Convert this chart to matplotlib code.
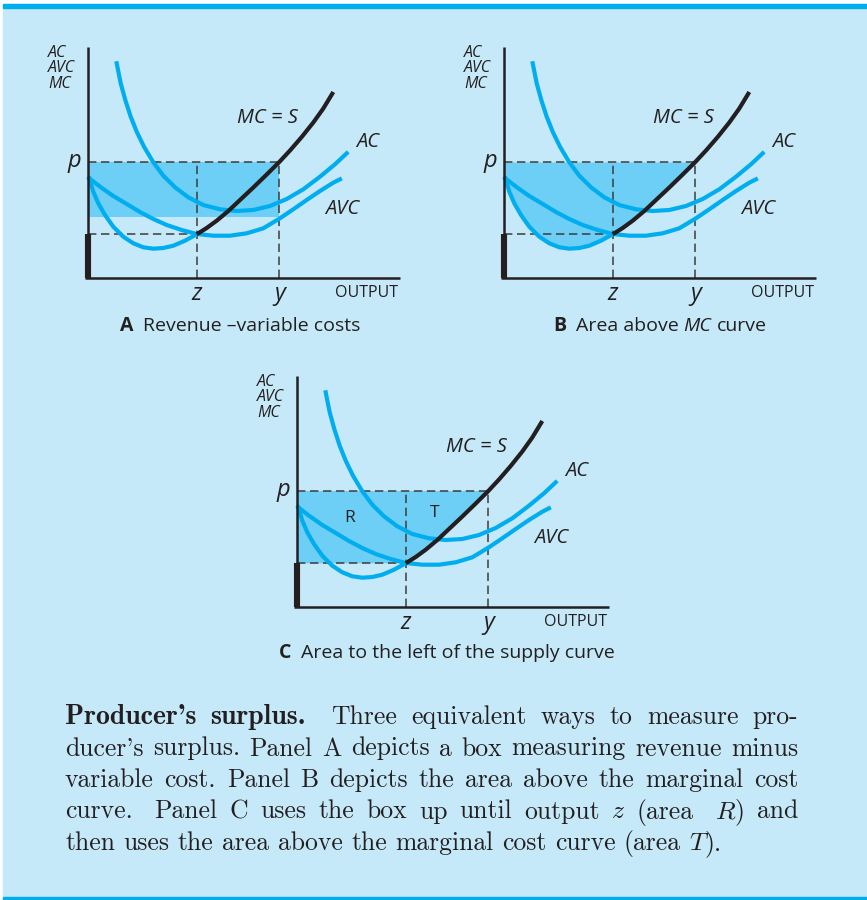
import matplotlib
matplotlib.use("Agg")  # no screen, write straight to file
import matplotlib.pyplot as plt
import numpy as np

W, H = 867, 900

BG = "#c6e9f9"
BAND = "#00aeef"
CURVE = "#00aeef"
FILL = "#6dcff6"
INK = "#231f20"
DASH = "#3c3c3c"
SANS = "Open Sans"

# cost curves shared by the three panels: (output, cost)
AC_Q = [2.87, 3.27, 3.73, 4.27, 4.87, 5.6, 6.53, 7.53, 8.7, 10.03, 11.53, 13.2,
        14.87, 16.53, 18.2, 19.87, 21.53, 23.2, 24.7, 25.87]
AC_C = [21.47, 19.47, 17.8, 16.13, 14.63, 13.13, 11.57, 10.23, 9.07, 8.07, 7.3, 6.87,
        6.7, 6.8, 7.2, 7.9, 8.87, 10.13, 11.37, 12.47]

MC_Q = [0.13, 0.53, 1.03, 1.7, 2.53, 3.53, 4.53, 5.53, 6.53, 7.53, 8.53, 9.7, 10.87,
        11.87, 12.87, 14.03, 15.2, 16.53, 17.87, 19.13, 20.2, 21.37, 22.53, 23.53, 24.53]
MC_C = [9.97, 8.63, 7.47, 6.3, 5.13, 4.13, 3.47, 3.07, 2.93, 3.0, 3.23, 3.73, 4.37,
        5.0, 5.73, 6.7, 7.8, 9.05, 10.35, 11.6, 12.75, 14.1, 15.55, 16.95, 18.6]

AVC_Q = [0.13, 1.2, 2.53, 3.87, 5.2, 6.53, 7.87, 9.37, 10.87, 12.53, 14.2, 15.87,
         17.53, 19.13, 20.53, 21.87, 23.2, 24.53, 25.2]
AVC_C = [9.97, 9.13, 8.2, 7.4, 6.6, 5.9, 5.3, 4.8, 4.4, 4.23, 4.23, 4.47,
         4.97, 5.93, 6.87, 7.8, 8.7, 9.53, 9.87]

P = 11.6         # price
Z = 10.87        # output where MC meets min AVC
Y = 19.13        # output where p = MC
MIN_AVC = 4.37
AVC_AT_Y = 6.1
Q_END = 31.2
C_TOP = 23.1

PANELS = ["A", "B", "C"]
ORIGINS = [(88, 278), (504, 278), (297, 607)]   # pixel position of each origin
CAPTIONS = [
    [("A", "b"), ("Revenue –variable costs", "r")],
    [("B", "b"), ("Area above", "r"), ("MC", "i"), ("curve", "r")],
    [("C", "b"), ("Area to the left of the supply curve", "r")],
]
CAPTION_X = [240, 660, 447]
CAPTION_BASE = [331, 331, 658]

TEXT_LINES = [
    [[("Producer's", "bf")], [("surplus.", "bf")], "+", "Three", "equivalent", "ways",
     "to", "measure", "pro-"],
    ["ducer's", "surplus.", "Panel", "A", "depicts", "a", "box", "measuring", "revenue", "minus"],
    ["variable", "cost.", "Panel", "B", "depicts", "the", "area", "above", "the",
     "marginal", "cost"],
    ["curve.", "+", "Panel", "C", "uses", "the", "box", "up", "until", "output",
     [("z", "it")], "(area", "+", [("R", "it"), (")", "rm")], "and"],
    ["then", "uses", "the", "area", "above", "the", "marginal", "cost", "curve",
     "(area", [("T", "it"), (").", "rm")]],
]
TEXT_BASE = [724, 755.5, 787, 818.5, 850]
TEXT_X0, TEXT_X1 = 65, 798

PANEL_STYLE = {
    "r": dict(family=SANS, size=14),
    "b": dict(family=SANS, size=14, weight="bold"),
    "i": dict(family=SANS, size=14, style="italic"),
}
TEX_STYLE = {
    "rm": dict(family="cmr10", size=18.5),
    "bf": dict(family="cmb10", size=20),
    "it": dict(family="cmmi10", size=18.5),
}


def put(fig, s, props, x, y):
    return fig.text(x / W, 1 - y / H, s, ha="left", va="baseline", color=INK, **props)


def width(fig, t):
    return t.get_window_extent(fig.canvas.get_renderer()).width


def space_of(fig, props):
    a = put(fig, "x x", props, 0, 0)
    b = put(fig, "xx", props, 0, 0)
    w = width(fig, a) - width(fig, b)
    a.remove()
    b.remove()
    return w


def lay_words(fig, words, styles, y, x0=None, x1=None, center=None, gap=None):
    # words: list of runs [(text, key)], "+" widens the gap before the next word
    items, weights = [], []
    pending = 0.0
    for w in words:
        if w == "+":
            pending += 0.8
            continue
        if isinstance(w, str):
            w = [(w, "rm")]
        items.append([(put(fig, s, styles[k], 0, y), k) for s, k in w])
        weights.append(1.0 + pending)
        pending = 0.0
    weights = weights[1:]
    wid = [sum(width(fig, t) for t, _ in it) for it in items]
    if gap is None:
        gap = (x1 - x0 - sum(wid)) / sum(weights)
    total = sum(wid) + gap * sum(weights)
    x = x0 if center is None else center - total / 2
    for i, it in enumerate(items):
        for t, _ in it:
            t.set_position((x / W, 1 - y / H))
            x += width(fig, t)
        if i < len(weights):
            x += gap * weights[i]


def draw_panel(ax, kind):
    mq, mc = np.array(MC_Q), np.array(MC_C)
    if kind == "A":
        ax.fill_between([0, Y], AVC_AT_Y, P, color=FILL, lw=0, zorder=1)
    elif kind == "B":
        keep = mq <= Y + 0.01
        ax.fill_between(np.r_[0, mq[keep]], np.r_[mc[0], mc[keep]], P,
                        color=FILL, lw=0, zorder=1)
    else:
        keep = (mq >= Z - 0.01) & (mq <= Y + 0.01)
        ax.fill(np.r_[0, mq[keep], Y, 0], np.r_[MIN_AVC, mc[keep], P, P],
                color=FILL, lw=0, zorder=1)
        ax.text(5.3, 8.9, "R", ha="center", va="center", color=INK,
                family=SANS, size=12.5)
        ax.text(13.8, 9.4, "T", ha="center", va="center", color=INK,
                family=SANS, size=12.5)

    dash = dict(color=DASH, lw=1.1, dashes=(5.5, 3), zorder=2)
    ax.plot([0, Y], [P, P], **dash)
    ax.plot([0, Z], [MIN_AVC, MIN_AVC], **dash)
    ax.plot([Z, Z], [0, P], **dash)
    ax.plot([Y, Y], [0, P], **dash)

    ax.plot(AC_Q, AC_C, color=CURVE, lw=3.0, zorder=3)
    ax.plot(AVC_Q, AVC_C, color=CURVE, lw=3.0, zorder=3)
    low = mq <= Z + 0.01
    high = mq >= Z - 0.01
    ax.plot(mq[low], mc[low], color=CURVE, lw=3.0, zorder=3)
    ax.plot(mq[high], mc[high], color=INK, lw=3.0, zorder=4, solid_capstyle="butt")

    ax.plot([0, 0], [0, C_TOP], color=INK, lw=1.8, zorder=5, solid_capstyle="butt")
    ax.plot([-0.3, Q_END], [0, 0], color=INK, lw=1.8, zorder=5, solid_capstyle="butt")
    ax.plot([0, 0], [0, MIN_AVC], color=INK, lw=4.4, zorder=5, solid_capstyle="butt")

    it = dict(family=SANS, style="italic", color=INK)
    for v, s in zip([22.5, 21.0, 19.4], ["AC", "AVC", "MC"]):
        ax.text(-4.0, v, s, ha="left", va="center", size=11.5, **it)
    ax.text(-1.4, P + 0.1, "p", ha="center", va="center", size=17, **it)
    ax.text(Z, -1.6, "z", ha="center", va="center", size=17, **it)
    ax.text(Y, -1.6, "y", ha="center", va="center", size=17, **it)
    ax.text(31.0, -1.5, "OUTPUT", ha="right", va="center", size=11.5,
            family=SANS, color=INK)
    ax.text(17.9, 16.0, "MC = S", ha="center", va="center", size=14.5, **it)
    ax.text(28.0, 13.6, "AC", ha="center", va="center", size=14.5, **it)
    ax.text(25.4, 6.9, "AVC", ha="center", va="center", size=14.5, **it)


fig = plt.figure(figsize=(W / 100, H / 100), dpi=100)
fig.patch.set_facecolor("white")
for xy, h, c in [((3 / W, 0), 1 - 4 / H, BG),
                 ((3 / W, 1 - 8 / H), 4 / H, BAND),
                 ((3 / W, 0), 3 / H, BAND)]:
    fig.add_artist(plt.Rectangle(xy, 1, h, transform=fig.transFigure,
                                 color=c, zorder=-10))

for kind, (ox, oy) in zip(PANELS, ORIGINS):
    ax = fig.add_axes([(ox - 60) / W, (H - oy - 65) / H, 390 / W, 310 / H])
    ax.set_xlim(-6, 33)
    ax.set_ylim(-6.5, 24.5)
    ax.axis("off")
    draw_panel(ax, kind)

for cap, cx, cy in zip(CAPTIONS, CAPTION_X, CAPTION_BASE):
    words = [[run] for run in cap]
    words.insert(1, "+")
    lay_words(fig, words, PANEL_STYLE, cy, center=cx,
              gap=space_of(fig, PANEL_STYLE["r"]))

for i, (line, base) in enumerate(zip(TEXT_LINES, TEXT_BASE)):
    if i < len(TEXT_LINES) - 1:
        lay_words(fig, line, TEX_STYLE, base, x0=TEXT_X0, x1=TEXT_X1)
    else:
        lay_words(fig, line, TEX_STYLE, base, x0=TEXT_X0,
                  gap=space_of(fig, TEX_STYLE["rm"]))

fig.savefig("out.png", dpi=100, facecolor=fig.get_facecolor())
